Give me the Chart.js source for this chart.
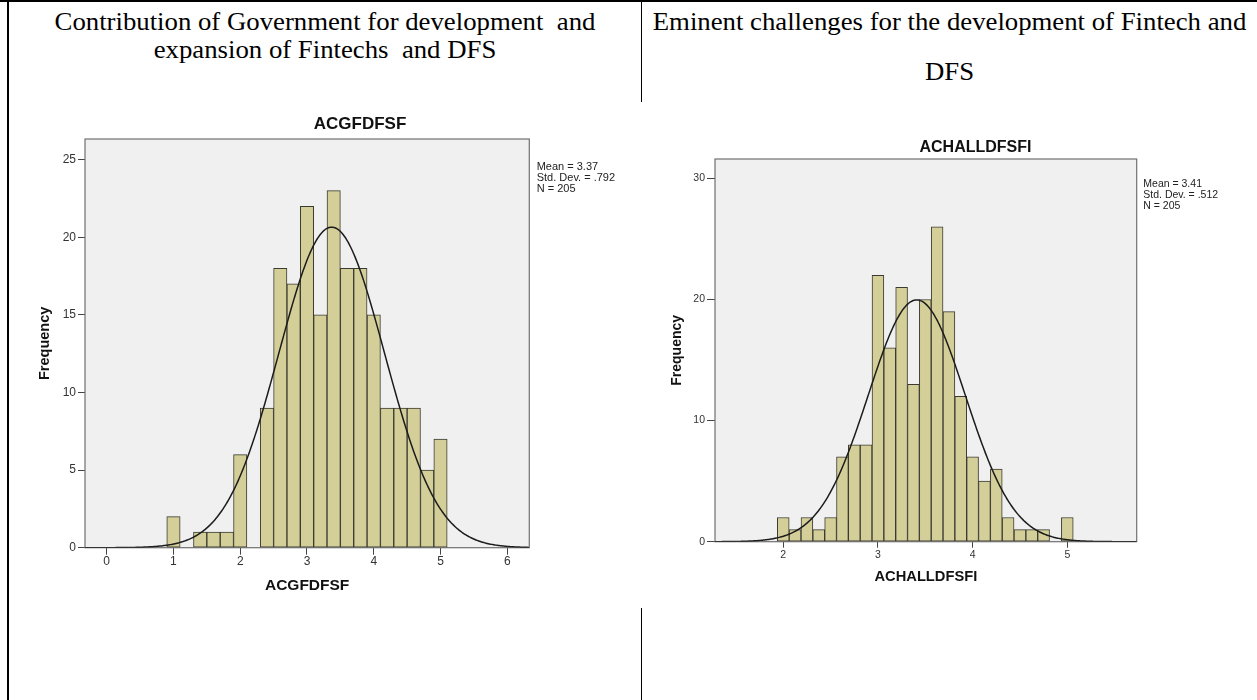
<!DOCTYPE html>
<html>
<head>
<meta charset="utf-8">
<title>Fintech and DFS histograms</title>
<script src="https://cdn.jsdelivr.net/npm/chart.js@4.4.0/dist/chart.umd.min.js"></script>
<style>
  html, body { margin: 0; padding: 0; background: #fff; width: 1257px; height: 700px; overflow: hidden; }
  #page { position: relative; width: 1257px; height: 700px; }
  .rule { position: absolute; background: #000; }
  .head {
    position: absolute; height: 28px; line-height: 28px;
    font-family: "Liberation Serif", "Times New Roman", serif; font-size: 25px; color: #000;
    text-align: center; white-space: pre; transform: scaleX(1.07); transform-origin: 50% 50%;
  }
  canvas { position: absolute; }
</style>
</head>
<body>
<div id="page">
  <div class="rule" style="left:0;top:0;width:1257px;height:2px"></div>
  <div class="rule" style="left:7px;top:0;width:2px;height:700px"></div>
  <div class="rule" style="left:641px;top:0;width:1px;height:102px"></div>
  <div class="rule" style="left:641px;top:608px;width:1px;height:92px"></div>

  <div class="head" style="left:9px;width:632px;top:8px">Contribution of Government for development  and</div>
  <div class="head" style="left:9px;width:632px;top:36px">expansion of Fintechs  and DFS</div>
  <div class="head" style="left:642px;width:615px;top:8px">Eminent challenges for the development of Fintech and</div>
  <div class="head" style="left:642px;width:615px;top:58px">DFS</div>

  <canvas id="govChart" width="680" height="510" style="left:20px;top:100px"></canvas>
  <canvas id="challChart" width="650" height="480" style="left:650px;top:125px"></canvas>
</div>

<script>
// ACGFDFSF: bar centres (bin width 0.2) and frequencies
const govBinCentres  = [1.0, 1.4, 1.6, 1.8, 2.0, 2.4, 2.6, 2.8, 3.0, 3.2, 3.4, 3.6, 3.8, 4.0, 4.2, 4.4, 4.6, 4.8, 5.0];
const govFrequencies = [2,   1,   1,   1,   6,   9,   18,  17,  22,  15,  23,  18,  18,  15,  9,   9,   9,   5,   7];
const govBinWidth = 0.2;
const govMean = 3.37;
const govStdDev = 0.792;
const govN = 205;
const govXTicks = [0, 1, 2, 3, 4, 5, 6];
const govYTicks = [0, 5, 10, 15, 20, 25];
const govXRange = [-0.325, 6.33];
const govYMax = 26.33;

// ACHALLDFSFI: bar centres (bin width 0.125) and frequencies
const challBinCentres  = [2.0, 2.125, 2.25, 2.375, 2.5, 2.625, 2.75, 2.875, 3.0, 3.125, 3.25, 3.375,
                          3.5, 3.625, 3.75, 3.875, 4.0, 4.125, 4.25, 4.375, 4.5, 4.625, 4.75, 5.0];
const challFrequencies = [2,   1,     2,    1,     2,   7,     8,    8,     22,  16,    21,   13,
                          20,  26,    19,   12,    7,   5,     6,    2,     1,   1,     1,    2];
const challBinWidth = 0.125;
const challMean = 3.41;
const challStdDev = 0.512;
const challN = 205;
const challXTicks = [2, 3, 4, 5];
const challYTicks = [0, 10, 20, 30];
const challXRange = [1.279, 5.733];
const challYMax = 31.6;

const SANS = '"Liberation Sans", Arial, Helvetica, sans-serif';

// Fitted normal curve scaled to the histogram (frequency per bin)
function normalCurve(mean, sd, n, binWidth, xMin, xMax, steps) {
  const pts = [];
  for (let i = 0; i <= steps; i++) {
    const x = xMin + (xMax - xMin) * i / steps;
    const z = (x - mean) / sd;
    pts.push({ x: x, y: n * binWidth * Math.exp(-0.5 * z * z) / (sd * Math.sqrt(2 * Math.PI)) });
  }
  return pts;
}

function fmtSd(v) { return v.toFixed(3).replace(/^0/, ''); }

// Grey plot background with a thin frame
const plotFrame = {
  id: 'plotFrame',
  beforeDatasetsDraw(chart) {
    const { ctx, chartArea: a } = chart;
    ctx.save();
    ctx.fillStyle = '#F0F0F0';
    ctx.fillRect(a.left, a.top, a.right - a.left, a.bottom - a.top);
    ctx.strokeStyle = '#707070';
    ctx.lineWidth = 1.2;
    ctx.strokeRect(a.left, a.top, a.right - a.left, a.bottom - a.top);
    ctx.restore();
  }
};

// Summary statistics printed to the right of the plot
const statsText = {
  id: 'statsText',
  afterDraw(chart, args, opts) {
    const { ctx, chartArea: a } = chart;
    ctx.save();
    ctx.font = opts.size + 'px ' + SANS;
    ctx.fillStyle = '#222';
    ctx.textAlign = 'left';
    ctx.textBaseline = 'middle';
    opts.lines.forEach((t, i) => ctx.fillText(t, a.right + opts.dx, a.top + opts.dy + i * opts.gap));
    ctx.restore();
  }
};

function histogram(canvasId, s) {
  const bars = s.centres.map((c, i) => ({ x: c, y: s.freqs[i] }));
  const curve = normalCurve(s.mean, s.sd, s.n, s.binWidth, s.xRange[0], s.xRange[1], 400);
  return new Chart(document.getElementById(canvasId), {
    type: 'bar',
    data: {
      datasets: [
        { type: 'line', data: curve, borderColor: '#1c1c1c', borderWidth: 1.5, pointRadius: 0, fill: false, tension: 0, order: 0 },
        { type: 'bar', data: bars, backgroundColor: '#D4CF99', borderColor: '#3a3a30', borderWidth: 1,
          borderSkipped: false, barPercentage: 1, categoryPercentage: 1, order: 1 }
      ]
    },
    options: {
      responsive: false,
      animation: false,
      events: [],
      layout: { padding: s.padding },
      plugins: {
        legend: { display: false },
        tooltip: { enabled: false },
        title: {
          display: true, text: s.name, color: '#111', fullSize: true, align: 'center',
          font: { family: SANS, size: s.titleSize, weight: 'bold', lineHeight: 1.2 },
          padding: s.titlePad
        },
        statsText: {
          lines: ['Mean = ' + s.mean.toFixed(2), 'Std. Dev. = ' + fmtSd(s.sd), 'N = ' + s.n],
          size: s.statSize, dx: s.statDx, dy: s.statDy, gap: s.statGap
        }
      },
      scales: {
        x: {
          type: 'linear', position: 'bottom', min: s.xRange[0], max: s.xRange[1], offset: false,
          afterBuildTicks: sc => { sc.ticks = s.xTicks.map(v => ({ value: v })); },
          afterFit: sc => { sc.height = s.xAxisH; },
          grid: { display: true, offset: false, drawOnChartArea: false, drawTicks: true, tickLength: s.xTickLen, color: '#444', lineWidth: 1 },
          border: { display: false },
          ticks: { color: '#333', padding: s.xTickPad, maxRotation: 0, font: { family: SANS, size: s.tickSize } },
          title: { display: true, text: s.name, color: '#111', padding: 0,
                   font: { family: SANS, size: s.xTitleSize, weight: 'bold', lineHeight: 1.2 } }
        },
        y: {
          type: 'linear', position: 'left', min: 0, max: s.yMax,
          afterBuildTicks: sc => { sc.ticks = s.yTicks.map(v => ({ value: v })); },
          afterFit: sc => { sc.width = s.yAxisW; },
          grid: { display: true, drawOnChartArea: false, drawTicks: true, tickLength: s.yTickLen, color: '#444', lineWidth: 1 },
          border: { display: false },
          ticks: { color: '#333', padding: 2, font: { family: SANS, size: s.tickSize } },
          title: { display: true, text: 'Frequency', color: '#111', padding: 0,
                   font: { family: SANS, size: s.yTitleSize, weight: 'bold', lineHeight: 1.2 } }
        },
        side: {
          type: 'linear', position: 'right', display: true,
          afterFit: sc => { sc.width = s.sideW; },
          grid: { display: false }, border: { display: false }, ticks: { display: false }
        }
      }
    },
    plugins: [plotFrame, statsText]
  });
}

histogram('govChart', {
  name: 'ACGFDFSF', centres: govBinCentres, freqs: govFrequencies, binWidth: govBinWidth,
  mean: govMean, sd: govStdDev, n: govN, xTicks: govXTicks, yTicks: govYTicks,
  xRange: govXRange, yMax: govYMax,
  padding: { left: 16.3, right: 16.3, top: 0, bottom: 15 },
  titleSize: 17, titlePad: { top: 14.5, bottom: 4.1 },
  xAxisH: 47.3, yAxisW: 48.7, sideW: 154.4,
  xTickLen: 7, yTickLen: 7, xTickPad: 0, tickSize: 12,
  xTitleSize: 15.5, yTitleSize: 14.5,
  statSize: 11, statDx: 7.4, statDy: 27.7, statGap: 11.2
});

histogram('challChart', {
  name: 'ACHALLDFSFI', centres: challBinCentres, freqs: challFrequencies, binWidth: challBinWidth,
  mean: challMean, sd: challStdDev, n: challN, xTicks: challXTicks, yTicks: challYTicks,
  xRange: challXRange, yMax: challYMax,
  padding: { left: 19.1, right: 18.1, top: 0, bottom: 19.5 },
  titleSize: 16, titlePad: { top: 12.9, bottom: 1.9 },
  xAxisH: 43.8, yAxisW: 45.9, sideW: 145.2,
  xTickLen: 6, yTickLen: 8, xTickPad: 1.5, tickSize: 10.5,
  xTitleSize: 14.7, yTitleSize: 14,
  statSize: 10.5, statDx: 6.6, statDy: 25.3, statGap: 10.7
});
</script>
</body>
</html>
